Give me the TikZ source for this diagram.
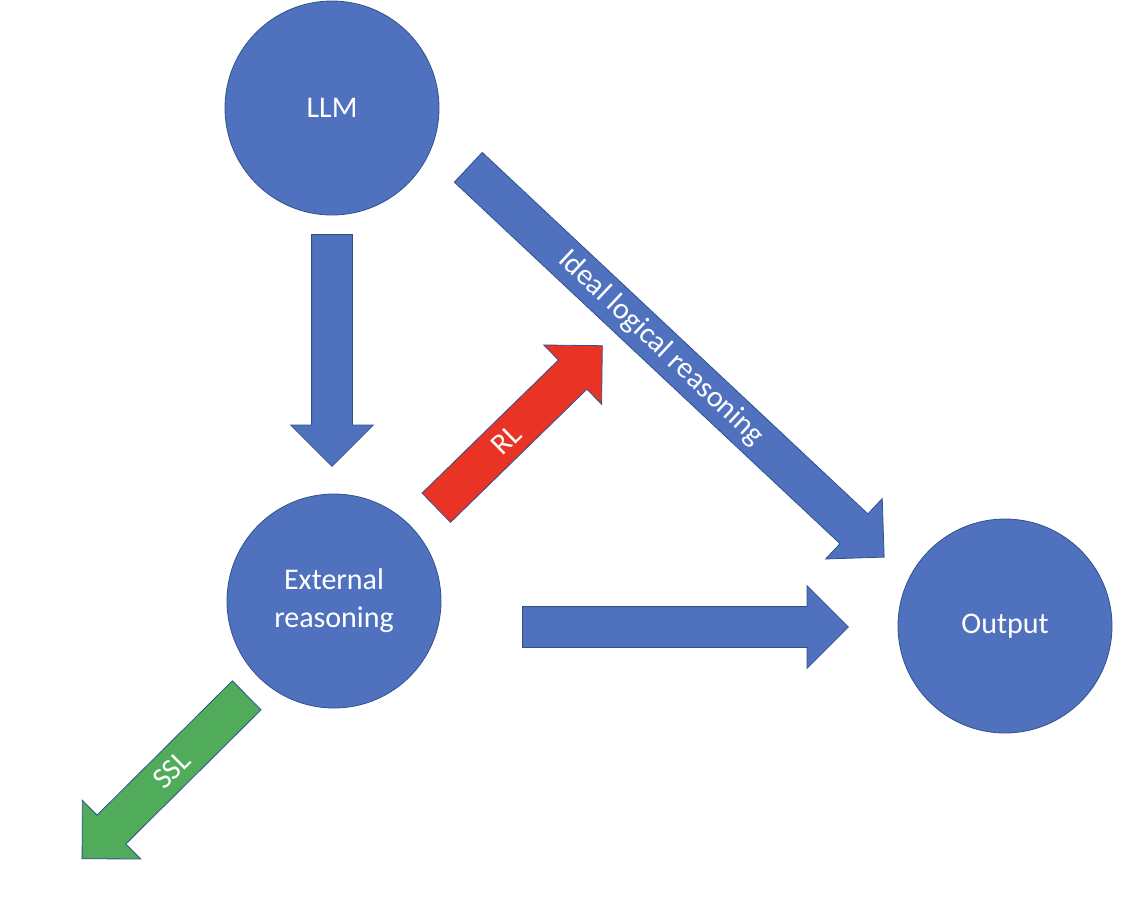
\documentclass[tikz,border=0pt]{standalone}
\usepackage{fontspec}
\setmainfont{Carlito}
\usepackage{tikz}
\usetikzlibrary{shapes,shapes.arrows}
\usetikzlibrary{calc}
\definecolor{nodeblue}{RGB}{80,114,190}
\definecolor{edgeblue}{RGB}{47,82,143}
\definecolor{rlred}{RGB}{232,51,37}
\definecolor{sslgreen}{RGB}{80,171,90}
\tikzstyle{vertex}=[circle,fill=nodeblue,draw=edgeblue,line width=0.8pt,minimum size=214pt,inner sep=0pt,text=white,align=center,font=\fontsize{30}{38}\selectfont]
\tikzstyle{blockarrow}=[single arrow,draw=edgeblue,line width=0.8pt,minimum width=82pt,single arrow head extend=21pt,single arrow tip angle=90,inner ysep=20pt,inner xsep=0pt,anchor=tail]
\tikzstyle{arrowlabel}=[text=white,font=\fontsize{30}{38}\selectfont,inner sep=0pt]

\begin{document}
\begin{tikzpicture}[x=1pt,y=-1pt]
    \useasboundingbox (0,0) rectangle (1148,898);

    \foreach \pos/ \name/ \txt in {{(332,108)/llm/LLM},{(334,601)/ext/{External\\reasoning}},{(1005,626)/out/Output}}
        \node[vertex] (\name) at \pos {\txt};

    % block arrows, placed by their tails
    \node[blockarrow,fill=nodeblue,minimum height=232pt,rotate=-90] (down) at (332,234) {};
    \node[blockarrow,fill=nodeblue,minimum height=326pt] (right) at (522,627) {};
    \node[blockarrow,fill=nodeblue,minimum height=570pt,rotate=-43.15] (ideal) at (468,167) {};
    \node[blockarrow,fill=rlred,minimum height=232pt,rotate=44.3] (rl) at (436,508) {};
    \node[blockarrow,fill=sslgreen,minimum height=232pt,rotate=224.8] (ssl) at (247,695) {};

    % labels on the shafts
    \node[arrowlabel,rotate=-43.15] at ($(ideal.tail)!0.463!(ideal.tip)$) {Ideal logical reasoning};
    \node[arrowlabel,rotate=44.3] at ($(rl.tail)!0.42!(rl.tip)$) {RL};
    \node[arrowlabel,rotate=44.8] at ($(ssl.tail)!0.456!(ssl.tip)$) {SSL};

\end{tikzpicture}
\end{document}
